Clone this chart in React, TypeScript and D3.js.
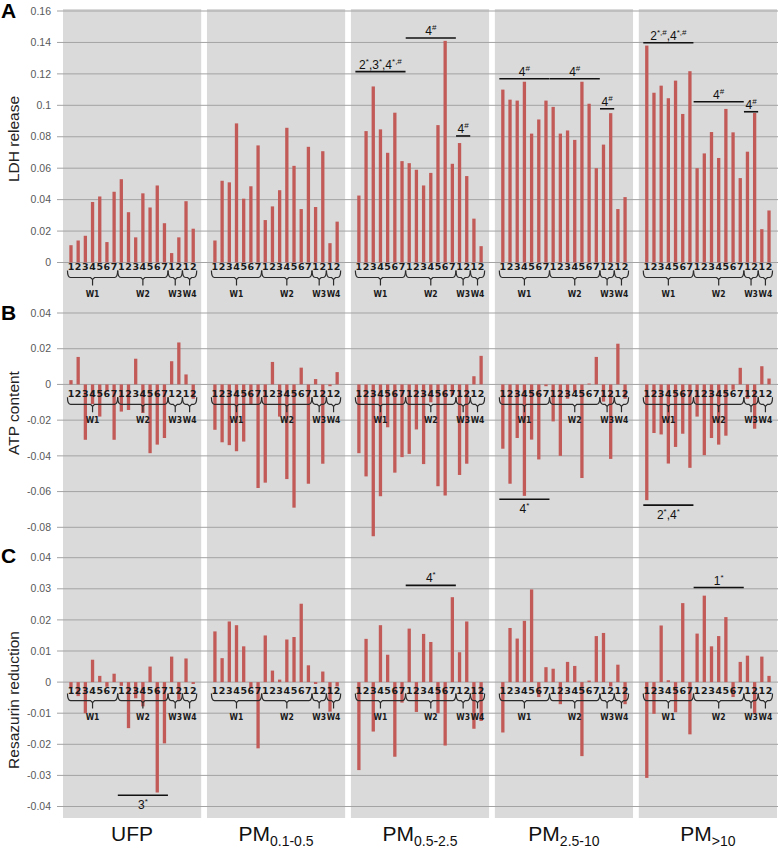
import * as d3 from 'd3';

// groups and x-axis structure
const groupNames = ['UFP', 'PM', 'PM', 'PM', 'PM'];
const groupSubs = ['', '0.1-0.5', '0.5-2.5', '2.5-10', '>10'];
const weekNames = ['W1', 'W2', 'W3', 'W4'];
const weekSizes = [7, 7, 2, 2];

// A - LDH release
const ldhUFP = [0.011, 0.014, 0.017, 0.0385, 0.042, 0.013, 0.045, 0.053, 0.032, 0.016, 0.044, 0.035, 0.049, 0.025, 0.006, 0.016, 0.039, 0.0215];
const ldhPM01 = [0.014, 0.052, 0.051, 0.0885, 0.0406, 0.0485, 0.0745, 0.027, 0.0357, 0.046, 0.0857, 0.0615, 0.034, 0.0736, 0.0353, 0.0708, 0.0123, 0.026];
const ldhPM05 = [0.0426, 0.0836, 0.112, 0.0847, 0.0698, 0.0953, 0.0645, 0.0632, 0.059, 0.049, 0.057, 0.0874, 0.141, 0.0628, 0.076, 0.055, 0.0279, 0.0104];
const ldhPM25 = [0.11, 0.1036, 0.103, 0.115, 0.082, 0.091, 0.103, 0.099, 0.082, 0.084, 0.078, 0.115, 0.101, 0.06, 0.075, 0.095, 0.034, 0.0416];
const ldhPM10 = [0.138, 0.108, 0.1125, 0.1045, 0.1157, 0.0945, 0.1217, 0.06, 0.0694, 0.083, 0.0665, 0.0977, 0.0828, 0.0537, 0.0705, 0.0951, 0.0212, 0.0331];

// B - ATP content
const atpUFP = [0.0024, 0.0154, -0.031, -0.011, -0.018, -0.004, -0.031, -0.0152, -0.0143, 0.0144, -0.016, -0.0385, -0.0337, -0.03, 0.013, 0.0235, 0.0056, -0.008];
const atpPM01 = [-0.0254, -0.0324, -0.034, -0.0374, -0.032, -0.011, -0.058, -0.055, 0.0126, -0.018, -0.053, -0.069, 0.0094, -0.0556, 0.003, -0.0444, -0.001, 0.0069];
const atpPM05 = [-0.0385, -0.0515, -0.085, -0.0626, -0.024, -0.0494, -0.0407, -0.0389, -0.0252, -0.0446, -0.01, -0.057, -0.0622, -0.006, -0.0507, -0.0444, 0.0046, 0.016];
const atpPM25 = [-0.036, -0.0556, -0.03, -0.0624, -0.0309, -0.042, -0.001, -0.0207, -0.04, -0.008, -0.004, -0.0524, 0.0005, 0.0154, -0.0096, -0.0417, 0.0228, -0.008];
const atpPM10 = [-0.0648, -0.0272, -0.028, -0.0443, -0.035, -0.0276, -0.0467, -0.018, -0.0396, -0.03, -0.0337, -0.0287, -0.003, 0.0093, -0.008, -0.0248, 0.0102, 0.0033];

// C - Resazurin reduction
const resUFP = [-0.002, -0.0045, -0.01, 0.0072, 0.002, -0.0015, 0.0027, -0.0012, -0.0148, -0.0052, -0.0078, 0.005, -0.0355, -0.0197, 0.0082, -0.0057, 0.0076, -0.0006];
const resPM01 = [0.0163, 0.0077, 0.0195, 0.0183, 0.0115, -0.002, -0.0213, 0.015, 0.0037, 0.0008, 0.0137, 0.0145, 0.0252, 0.0054, -0.0006, 0.0034, -0.0095, -0.0014];
const resPM05 = [-0.0283, 0.0139, -0.0159, 0.0183, 0.0088, -0.024, -0.0066, 0.0172, -0.0096, 0.0155, 0.0129, -0.01, -0.0204, 0.0273, 0.0096, 0.0195, -0.015, -0.0125];
const resPM25 = [-0.0162, 0.0174, 0.014, 0.0197, 0.0298, -0.0048, 0.0048, 0.0043, -0.0071, 0.0065, 0.0052, -0.0238, 0.0005, 0.0148, 0.0158, -0.0014, 0.0056, -0.0071];
const resPM10 = [-0.0308, -0.0102, 0.0182, 0.0006, -0.0097, 0.0254, -0.0168, 0.0156, 0.0278, 0.0115, 0.0148, 0.0209, -0.0048, 0.0065, 0.0085, -0.0102, 0.0082, 0.002];

// significance bars: group, week, value (height of the line), text with ^{} superscripts
const notesA = [
  { group: 2, week: 0, value: 0.1214, text: '2^{*},3^{*},4^{*,#}' },
  { group: 2, week: 1, value: 0.1428, text: '4^{#}' },
  { group: 2, week: 2, value: 0.0805, text: '4^{#}' },
  { group: 3, week: 0, value: 0.1169, text: '4^{#}' },
  { group: 3, week: 1, value: 0.1169, text: '4^{#}' },
  { group: 3, week: 2, value: 0.0978, text: '4^{#}' },
  { group: 4, week: 0, value: 0.1398, text: '2^{*,#},4^{*,#}' },
  { group: 4, week: 1, value: 0.1023, text: '4^{#}' },
  { group: 4, week: 2, value: 0.0959, text: '4^{#}' },
];
const notesB = [
  { group: 3, week: 0, value: -0.0643, text: '4^{*}', below: true },
  { group: 4, week: 0, value: -0.0676, text: '2^{*},4^{*}', below: true },
];
const notesC = [
  { group: 0, week: 1, value: -0.0364, text: '3^{*}', below: true },
  { group: 2, week: 1, value: 0.0311, text: '4^{*}' },
  { group: 4, week: 1, value: 0.0304, text: '1^{*}' },
];

const W = 778;
const H = 849;
const BAR = '#c25b58';
const SANS = "'Liberation Sans', Arial, sans-serif";
const TICKFONT = "'DejaVu Sans', Verdana, sans-serif";
const WFONT = "'DejaVu Sans Condensed', 'Liberation Sans', sans-serif";

const panels = [
  { letter: 'A', title: 'LDH release', domain: [0, 0.16], range: [262.5, 11], ticks: 8, series: [ldhUFP, ldhPM01, ldhPM05, ldhPM25, ldhPM10], notes: notesA, lblDy: 4.5, letterY: 18, titleY: 139 },
  { letter: 'B', title: 'ATP content', domain: [-0.08, 0.04], range: [527.3, 313], ticks: 6, series: [atpUFP, atpPM01, atpPM05, atpPM25, atpPM10], notes: notesB, lblDy: 9.4, letterY: 320, titleY: 413 },
  { letter: 'C', title: 'Resazurin reduction', domain: [-0.04, 0.04], range: [806.5, 557.7], ticks: 8, series: [resUFP, resPM01, resPM05, resPM25, resPM10], notes: notesC, lblDy: 8, letterY: 563, titleY: 700 },
];

// slot labels 1..7, 1..7, 1..2, 1..2
const slots: { week: number; label: string }[] = [];
weekSizes.forEach((n, w) => d3.range(n).forEach((i) => slots.push({ week: w, label: String(i + 1) })));
const weekStart = weekSizes.map((_, w) => d3.sum(weekSizes.slice(0, w)));

const xGroup = d3.scaleBand<number>().domain(d3.range(5)).range([63, 777]).paddingInner(0.04);
const xBar = d3.scaleBand<number>().domain(d3.range(slots.length)).range([0, xGroup.bandwidth()]).paddingInner(0.54).paddingOuter(0.88);
const cx = (g: number, i: number) => (xGroup(g) as number) + (xBar(i) as number) + xBar.bandwidth() / 2;

function supParts(s: string) {
  const out: { t: string; sup: boolean }[] = [];
  const re = /\^\{([^}]*)\}/g;
  let last = 0;
  let m: RegExpExecArray | null;
  while ((m = re.exec(s))) {
    if (m.index > last) out.push({ t: s.slice(last, m.index), sup: false });
    out.push({ t: m[1], sup: true });
    last = re.lastIndex;
  }
  if (last < s.length) out.push({ t: s.slice(last), sup: false });
  return out;
}

function SupText({ x, y, text }: { x: number; y: number; text: string }) {
  let up = false;
  return (
    <text x={x} y={y} textAnchor="middle" fontFamily={SANS} fontSize={12} fill="#111">
      {supParts(text).map((p, i) => {
        let dy = 0;
        if (p.sup && !up) { dy = -5; up = true; }
        else if (!p.sup && up) { dy = 5; up = false; }
        return (
          <tspan key={i} dy={dy} fontSize={p.sup ? 8 : 12}>{p.t}</tspan>
        );
      })}
    </text>
  );
}

function Brace({ x0, x1, y }: { x0: number; x1: number; y: number }) {
  const xm = (x0 + x1) / 2;
  const h = 7;
  const d = `M${x0},${y - h} Q${x0},${y} ${x0 + 3},${y} L${xm - 2},${y} L${xm},${y + 2} L${xm + 2},${y} L${x1 - 3},${y} Q${x1},${y} ${x1},${y - h} M${xm},${y + 1} L${xm},${y + 8}`;
  return <path d={d} fill="none" stroke="#2a2a2a" strokeWidth={1.2} />;
}

function Panel({ p }: { p: (typeof panels)[number] }) {
  const y = d3.scaleLinear().domain(p.domain).range(p.range);
  const y0 = y(0);
  const ticks = y.ticks(p.ticks);
  const half = 3.5;
  return (
    <g>
      {ticks.map((t) => (
        <g key={t}>
          <line x1={57} x2={W} y1={y(t)} y2={y(t)} stroke="#a3a3a3" strokeWidth={1} />
          <text x={51} y={y(t)} dy="0.35em" textAnchor="end" fontFamily={SANS} fontSize={10.5} fill="#595959">{String(t)}</text>
        </g>
      ))}
      {p.series.map((vals, g) =>
        vals.map((v, i) => (
          <rect key={`${g}-${i}`} x={(xGroup(g) as number) + (xBar(i) as number)} width={xBar.bandwidth()}
            y={Math.min(y(v), y0)} height={Math.abs(y(v) - y0)} fill={BAR} />
        ))
      )}
      {d3.range(5).map((g) => (
        <g key={g}>
          {slots.map((s, i) => (
            <text key={i} x={cx(g, i)} y={y0 + p.lblDy} dy="0.36em" textAnchor="middle" fontFamily={TICKFONT} fontWeight="bold" fontSize={9.5} fill="#1a1a1a">{s.label}</text>
          ))}
          {weekNames.map((wn, w) => {
            const a = cx(g, weekStart[w]) - half;
            const b = cx(g, weekStart[w] + weekSizes[w] - 1) + half;
            const by = y0 + p.lblDy + 10.5;
            return (
              <g key={wn}>
                <Brace x0={a} x1={b} y={by} />
                <text x={(a + b) / 2} y={by + 16} dy="0.36em" textAnchor="middle" fontFamily={WFONT} fontWeight="bold" fontSize={8.5} fill="#1a1a1a">{wn}</text>
              </g>
            );
          })}
        </g>
      ))}
      {p.notes.map((n, k) => {
        const a = cx(n.group, weekStart[n.week]) - half;
        const b = cx(n.group, weekStart[n.week] + weekSizes[n.week] - 1) + half;
        const ly = y(n.value);
        return (
          <g key={k}>
            <line x1={a} x2={b} y1={ly} y2={ly} stroke="#111" strokeWidth={1.6} />
            <SupText x={(a + b) / 2} y={(n as any).below ? ly + 14 : ly - 3} text={n.text} />
          </g>
        );
      })}
      <text x={1} y={p.letterY} fontFamily={SANS} fontWeight="bold" fontSize={21} fill="#000">{p.letter}</text>
      <text transform={`translate(19,${p.titleY}) rotate(-90)`} textAnchor="middle" fontFamily={SANS} fontSize={15.5} fill="#222">{p.title}</text>
    </g>
  );
}

export default function App() {
  return (
    <svg width={W} height={H} style={{ position: 'absolute', left: 0, top: 0, background: '#fff' }}>
      {d3.range(5).map((g) => (
        <rect key={g} x={xGroup(g)} y={9} width={xGroup.bandwidth()} height={818 - 9} fill="#dadada" />
      ))}
      {panels.map((p) => <Panel key={p.letter} p={p} />)}
      {d3.range(5).map((g) => (
        <text key={g} x={(xGroup(g) as number) + xGroup.bandwidth() / 2} y={841} textAnchor="middle"
          fontFamily="'Liberation Sans Narrow', 'Arial Narrow', 'Liberation Sans', sans-serif" fontSize={21} fill="#111">
          {groupNames[g]}
          {groupSubs[g] && <tspan dy={5} fontSize={14}>{groupSubs[g]}</tspan>}
        </text>
      ))}
    </svg>
  );
}
